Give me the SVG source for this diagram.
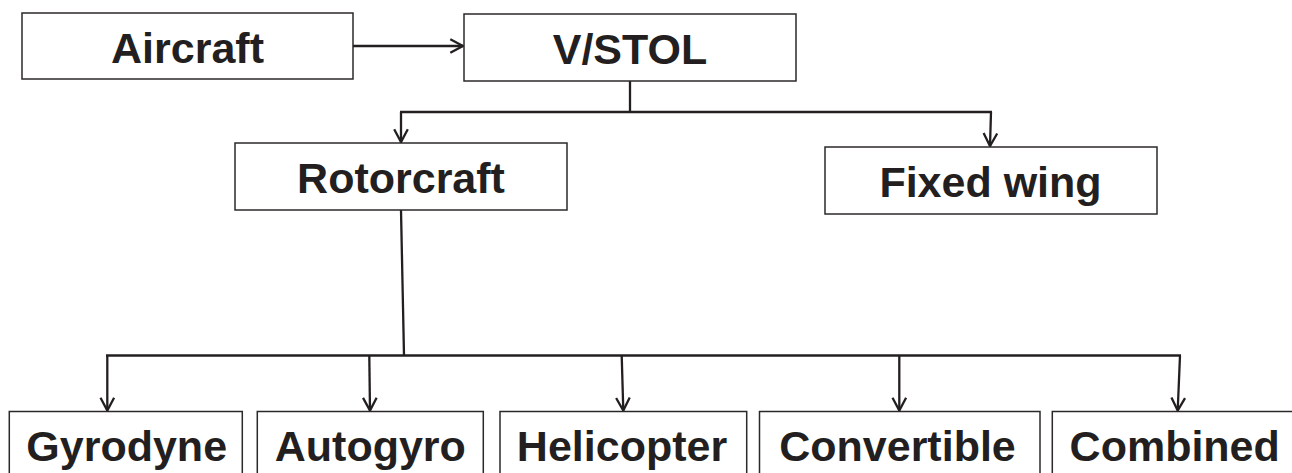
<svg xmlns="http://www.w3.org/2000/svg" width="1292" height="473" viewBox="0 0 1292 473">
<defs>
<style>
.box{fill:#fff;stroke:#2b2829;stroke-width:1.5}
.lbl{font-family:"Liberation Sans",Arial,Helvetica,sans-serif;font-weight:bold;font-size:43px;fill:#231f20;text-anchor:middle}
.con{fill:none;stroke:#231f20;stroke-width:2.3;stroke-linejoin:miter}
</style>
<marker id="arr" markerUnits="userSpaceOnUse" markerWidth="20" markerHeight="20" viewBox="-16 -10 20 20" refX="0" refY="0" orient="auto">
<path d="M-12.7,-6.8 L0,0 L-12.7,6.8" fill="none" stroke="#231f20" stroke-width="2.3"/>
</marker>
</defs>
<rect width="1292" height="473" fill="#fff"/>
<g id="connectors">
<line class="con" x1="353" y1="46" x2="463" y2="46" marker-end="url(#arr)"/>
<line class="con" x1="630" y1="81" x2="630" y2="112"/>
<line class="con" x1="400" y1="112" x2="992" y2="112"/>
<line class="con" x1="401" y1="112" x2="401" y2="142" marker-end="url(#arr)"/>
<line class="con" x1="991" y1="112" x2="990" y2="146" marker-end="url(#arr)"/>
<line class="con" x1="401" y1="210" x2="404" y2="355.5"/>
<line class="con" x1="106" y1="355.5" x2="1181" y2="355.5"/>
<line class="con" x1="107.3" y1="355.5" x2="107.3" y2="410.5" marker-end="url(#arr)"/>
<line class="con" x1="369.3" y1="355.5" x2="370" y2="410.5" marker-end="url(#arr)"/>
<line class="con" x1="621.7" y1="355.5" x2="623.3" y2="410.5" marker-end="url(#arr)"/>
<line class="con" x1="899.3" y1="355.5" x2="899.3" y2="410.5" marker-end="url(#arr)"/>
<line class="con" x1="1180" y1="355.5" x2="1177.7" y2="410.5" marker-end="url(#arr)"/>
</g>
<g id="aircraft">
<rect class="box" x="22" y="13" width="331" height="66"/>
<text class="lbl" x="187.5" y="62.7">Aircraft</text>
</g>
<g id="vstol">
<rect class="box" x="464" y="14" width="332" height="67"/>
<text class="lbl" x="630" y="64">V/STOL</text>
</g>
<g id="rotorcraft">
<rect class="box" x="235" y="143" width="332" height="67"/>
<text class="lbl" x="401" y="192.7">Rotorcraft</text>
</g>
<g id="fixedwing">
<rect class="box" x="825" y="147" width="332" height="67"/>
<text class="lbl" x="990.5" y="197">Fixed wing</text>
</g>
<g id="gyrodyne">
<rect class="box" x="9.3" y="411.5" width="233" height="80"/>
<text class="lbl" x="126.7" y="460.7">Gyrodyne</text>
</g>
<g id="autogyro">
<rect class="box" x="257.3" y="411.5" width="226" height="80"/>
<text class="lbl" x="370.3" y="460.7">Autogyro</text>
</g>
<g id="helicopter">
<rect class="box" x="500" y="411.5" width="246.7" height="80"/>
<text class="lbl" x="622" y="460.7">Helicopter</text>
</g>
<g id="convertible">
<rect class="box" x="759.5" y="411.5" width="280.5" height="80"/>
<text class="lbl" x="897.5" y="460.7">Convertible</text>
</g>
<g id="combined">
<rect class="box" x="1052.3" y="411.5" width="260" height="80"/>
<text class="lbl" x="1174.7" y="460.7">Combined</text>
</g>
</svg>
